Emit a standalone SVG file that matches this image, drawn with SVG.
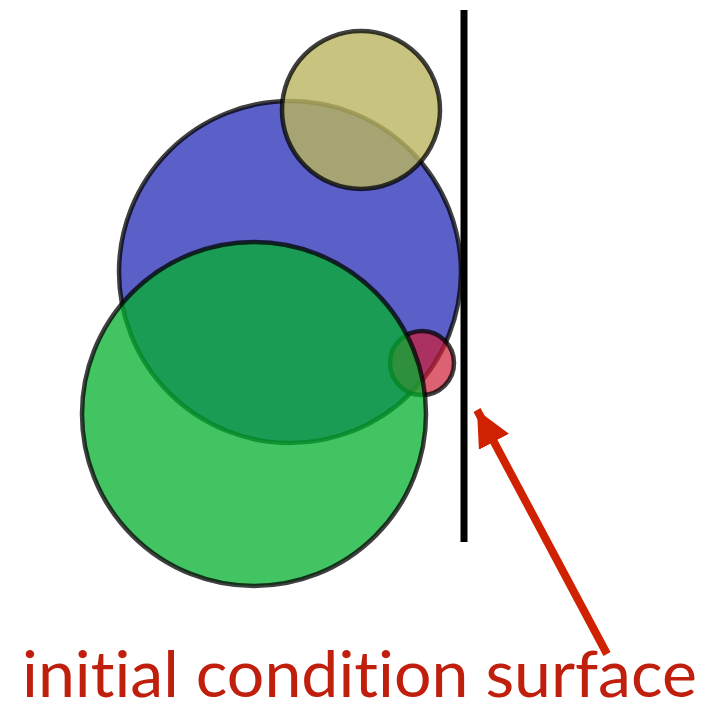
<svg xmlns="http://www.w3.org/2000/svg" width="716" height="711" viewBox="0 0 716 711">
<style>
.c{stroke:#000;stroke-opacity:0.75;stroke-width:4.5}
text{font-variant-ligatures:none;font-feature-settings:"liga" 0,"clig" 0}
</style>
<defs>
<marker id="ah" markerUnits="userSpaceOnUse" markerWidth="40" markerHeight="40" refX="36" refY="17" orient="auto">
<path d="M0,0 L36,17 L0,34 Z" fill="#d02200"/>
</marker>
</defs>
<rect width="716" height="711" fill="#fff"/>
<g id="blue"><circle class="c" cx="290" cy="272" r="171" fill="rgb(36,41,181)" fill-opacity="0.75"/></g>
<g id="yellow"><circle class="c" cx="361" cy="110" r="79" fill="rgb(186,181,95)" fill-opacity="0.8"/></g>
<g id="red"><circle class="c" cx="422" cy="363" r="32" fill="rgb(205,30,55)" fill-opacity="0.7"/></g>
<g id="green"><circle class="c" cx="254" cy="414" r="172" fill="rgb(4,176,47)" fill-opacity="0.75"/></g>
<g id="surface"><line x1="464" y1="10" x2="464" y2="542" stroke="#000" stroke-width="7"/></g>
<g id="connectors">
<line x1="607" y1="654" x2="477" y2="410" stroke="#d02200" stroke-width="8" marker-end="url(#ah)"/>
</g>
<g id="label"><text x="22" y="697" font-family="Lato, 'Open Sans', sans-serif" font-size="63" fill="#bf1f0c" textLength="675" lengthAdjust="spacingAndGlyphs">initial condition surface</text></g>
</svg>
